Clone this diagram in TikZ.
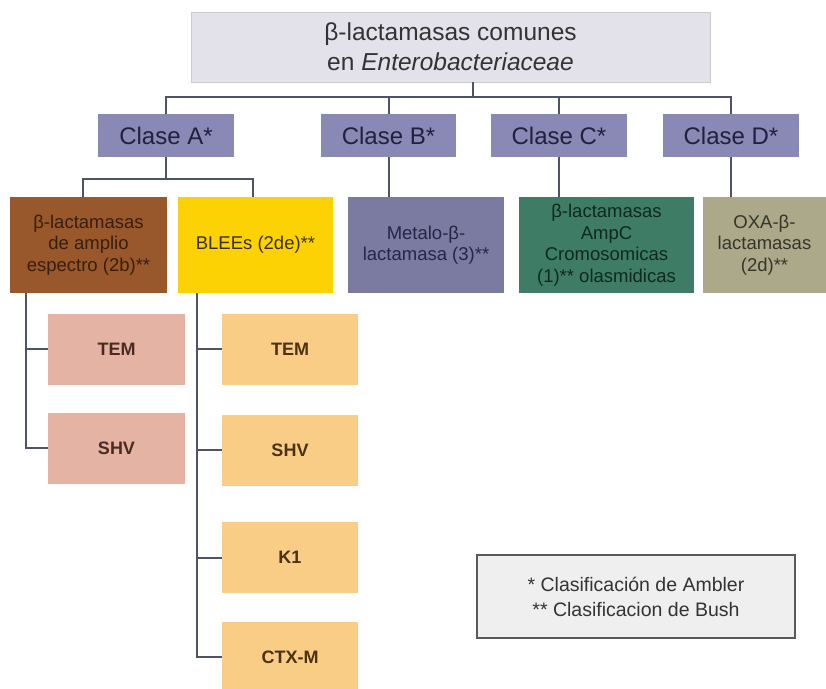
\documentclass[tikz,border=0pt]{standalone}
\usepackage{fontspec}
\setmainfont{Liberation Sans}
\definecolor{lnC}{HTML}{4F5368}
\definecolor{topC}{HTML}{E3E1EA}
\definecolor{claseC}{HTML}{8A88B4}
\definecolor{brownC}{HTML}{98582C}
\definecolor{yellowC}{HTML}{FCD205}
\definecolor{metaloC}{HTML}{7B7BA2}
\definecolor{greenC}{HTML}{3E7C66}
\definecolor{oxaC}{HTML}{ABA98A}
\definecolor{pinkC}{HTML}{E5B3A3}
\definecolor{orangeC}{HTML}{F9CD86}
\definecolor{legC}{HTML}{EFEFEF}
\definecolor{txClase}{HTML}{1E2140}
\definecolor{txBrown}{HTML}{3A1E0C}
\definecolor{txYellow}{HTML}{3A3000}
\definecolor{txMetalo}{HTML}{25254A}
\definecolor{txGreen}{HTML}{0E2A1E}
\definecolor{txOxa}{HTML}{35352A}
\definecolor{txPink}{HTML}{4A2A22}
\definecolor{txOrange}{HTML}{4A3212}
\tikzset{
  bx/.style={rectangle, inner sep=0pt, align=center},
  titlebox/.style={bx, fill=topC, draw=black!20, line width=0.8pt, text=black!80,
    font=\fontsize{24.5}{30}\selectfont},
  clasebox/.style={bx, fill=claseC, minimum width=136pt, minimum height=43pt, text=txClase,
    font=\fontsize{24}{28}\selectfont},
  lvbox/.style={bx, minimum height=96pt, font=\fontsize{18.5}{21.5}\selectfont},
  leafbox/.style={bx, minimum width=137pt, minimum height=71pt, font=\fontsize{18}{22}\selectfont\bfseries},
  legbox/.style={bx, fill=legC, draw=black!65, line width=1.6pt, text=black!80,
    font=\fontsize{19.5}{25}\selectfont},
  conn/.style={draw=lnC, line width=2pt}
}
\begin{document}
\begin{tikzpicture}[x=1pt, y=-1pt]
\useasboundingbox (0,0) rectangle (826,688);

% top
\node[titlebox, minimum width=519pt, minimum height=70pt] (top) at (450.5,47)
  {β-lactamasas comunes\\en \textit{Enterobacteriaceae}};

% clases
\node[clasebox] (clA) at (166,135.5) {Clase A*};
\node[clasebox, minimum width=135pt] (clB) at (388.5,135.5) {Clase B*};
\node[clasebox] (clC) at (559,135.5) {Clase C*};
\node[clasebox] (clD) at (731,135.5) {Clase D*};

% level 3
\node[lvbox, fill=brownC, minimum width=157pt, text=txBrown] (brown) at (88.5,245)
  {β-lactamasas\\de amplio\\espectro (2b)**};
\node[lvbox, fill=yellowC, minimum width=155pt, text=txYellow] (yellow) at (255.5,245)
  {BLEEs (2de)**};
\node[lvbox, fill=metaloC, minimum width=156pt, text=txMetalo] (metalo) at (426,245)
  {Metalo-β-\\lactamasa (3)**};
\node[lvbox, fill=greenC, minimum width=175pt, text=txGreen] (green) at (606.5,245)
  {β-lactamasas\\AmpC\\Cromosomicas\\(1)** olasmidicas};
\node[lvbox, fill=oxaC, minimum width=123pt, text=txOxa] (oxa) at (764.5,245)
  {OXA-β-\\lactamasas\\(2d)**};

% leaves
\node[leafbox, fill=pinkC, text=txPink] (pTEM) at (116.5,349) {TEM};
\node[leafbox, fill=pinkC, text=txPink] (pSHV) at (116.5,448) {SHV};
\node[leafbox, fill=orangeC, minimum width=136pt, text=txOrange] (oTEM) at (290,349) {TEM};
\node[leafbox, fill=orangeC, minimum width=136pt, text=txOrange] (oSHV) at (290,450) {SHV};
\node[leafbox, fill=orangeC, minimum width=136pt, text=txOrange] (oK1) at (290,557.5) {K1};
\node[leafbox, fill=orangeC, minimum width=136pt, text=txOrange] (oCTX) at (290,657) {CTX-M};

% legend
\node[legbox, minimum width=318pt, minimum height=83pt] (leg) at (636,596.5)
  {* Clasificación de Ambler\\** Clasificacion de Bush};

% connectors
\coordinate (bus) at (473,97);
\coordinate (subL) at (83,179);
\coordinate (subR) at (253,179);
\coordinate (lx) at (26,293);
\coordinate (rx) at (197,293);

\draw[conn] (top.south -| bus) -- (bus);
\draw[conn] (clA.north) -- (clA.north |- bus) -- (clD.north |- bus) -- (clD.north);
\draw[conn] (clB.north) -- (clB.north |- bus);
\draw[conn] (clC.north) -- (clC.north |- bus);

\draw[conn] (clA.south) -- (clA.south |- subL);
\draw[conn] (brown.north -| subL) -- (subL) -- (subR) -- (yellow.north -| subR);
\draw[conn] (clB.south) -- (clB.south |- metalo.north);
\draw[conn] (clC.south) -- (clC.south |- green.north);
\draw[conn] (clD.south) -- (clD.south |- oxa.north);

\draw[conn] (brown.south -| lx) |- (pSHV.west);
\draw[conn] (pTEM.west) -- (pTEM.west -| lx);

\draw[conn] (yellow.south -| rx) |- (oCTX.west);
\draw[conn] (oTEM.west) -- (oTEM.west -| rx);
\draw[conn] (oSHV.west) -- (oSHV.west -| rx);
\draw[conn] (oK1.west) -- (oK1.west -| rx);
\end{tikzpicture}
\end{document}
